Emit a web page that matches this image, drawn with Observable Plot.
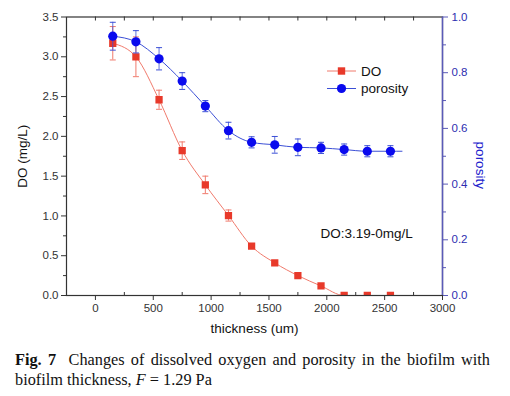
<!DOCTYPE html>
<html><head><meta charset="utf-8">
<script src="https://cdn.jsdelivr.net/npm/d3@7"></script>
<script src="https://cdn.jsdelivr.net/npm/@observablehq/plot@0.6"></script>
<style>
body{margin:0;background:#fff;}
#wrap{position:relative;width:510px;height:396px;overflow:hidden;background:#fff;}
#chart{position:absolute;left:0;top:0;}
#caption{position:absolute;left:15px;top:350px;width:475px;font-family:"Liberation Serif","Times New Roman",serif;font-size:16.3px;line-height:20px;color:#111;}
#caption .l1{text-align:justify;text-align-last:justify;white-space:nowrap;}
</style></head><body>
<div id="wrap"><div id="chart"></div>
<div id="caption"><div class="l1"><b>Fig. 7</b>&nbsp; Changes of dissolved oxygen and porosity in the biofilm with</div><div>biofilm thickness, <i>F</i> = 1.29 Pa</div></div>
</div>
<script>
// ---- data ----
const thickness = [150, 350, 550, 750, 950, 1150, 1350, 1550, 1750, 1950, 2150, 2350, 2550];
const doValues  = [3.17, 3.00, 2.46, 1.82, 1.39, 1.005, 0.62, 0.41, 0.25, 0.12, 0, 0, 0];
const doErr     = [0.21, 0.25, 0.12, 0.11, 0.11, 0.07, 0, 0, 0, 0, 0, 0, 0];
const porosity  = [0.931, 0.911, 0.85, 0.77, 0.68, 0.592, 0.55, 0.541, 0.532, 0.53, 0.524, 0.518, 0.518];
const porErr    = [0.05, 0.04, 0.04, 0.03, 0.02, 0.03, 0.02, 0.03, 0.03, 0.02, 0.02, 0.02, 0.02];
const porosityTailT = 2650, porosityTailP = 0.518;
const xTicks = [0, 500, 1000, 1500, 2000, 2500, 3000];
const xMinor = [250, 750, 1250, 1750, 2250, 2750];
const xAllTicks = [0, 250, 500, 750, 1000, 1250, 1500, 1750, 2000, 2250, 2500, 2750];
const doTicks = [0, 0.5, 1.0, 1.5, 2.0, 2.5, 3.0, 3.5];
const doMinor = [0.25, 0.75, 1.25, 1.75, 2.25, 2.75, 3.25];
const porTicks = [0, 0.2, 0.4, 0.6, 0.8, 1.0];
const porMinor = [0.1, 0.3, 0.5, 0.7, 0.9];
const seriesNames = ["DO", "porosity"];
const annotation = "DO:3.19-0mg/L";
const xLabel = "thickness (um)", yLabel = "DO (mg/L)", y2Label = "porosity";

// ---- build ----
const DOMAX = 3.5, PORMAX = 1.0, K = DOMAX / PORMAX;
const rows = thickness.map((t, i) => ({t, v: doValues[i], e: doErr[i], p: porosity[i], pe: porErr[i]}));
const porLine = rows.map(d => ({t: d.t, p: d.p})).concat([{t: porosityTailT, p: porosityTailP}]);

const RED = "#e8392a", RED_L = "#f07a6c", BLUE = "#0a0aee", BLUE_L = "#3b4fd6", AX = "#333", RAX = "#5a5ab8", RTXT = "#2d2db0";
const cap = {draw(ctx, size) { ctx.moveTo(-3, 0); ctx.lineTo(3, 0); }};

const W = 510, H = 345, mt = 16.5, mb = 50, ml = 66, mr = 68;
const fh = H - mt - mb;

const plot = Plot.plot({
  width: W, height: H, marginTop: mt, marginBottom: mb, marginLeft: ml, marginRight: mr,
  x: {domain: [-250, 3000]},
  y: {domain: [0, DOMAX]},
  style: {fontFamily: "'Liberation Sans', Arial, sans-serif", fontSize: "11.5px", color: AX, background: "transparent"},
  marks: [
    // DO series
    Plot.line(rows, {x: "t", y: "v", stroke: RED_L, strokeWidth: 1, curve: "monotone-x", clip: true}),
    Plot.ruleX(rows.filter(d => d.e > 0), {x: "t", y1: d => d.v - d.e, y2: d => d.v + d.e, stroke: RED_L, strokeWidth: 1}),
    Plot.dot(rows.filter(d => d.e > 0), {x: "t", y: d => d.v - d.e, symbol: cap, stroke: RED_L, strokeWidth: 1}),
    Plot.dot(rows.filter(d => d.e > 0), {x: "t", y: d => d.v + d.e, symbol: cap, stroke: RED_L, strokeWidth: 1}),
    Plot.dot(rows, {x: "t", y: "v", symbol: "square", r: 4.1, fill: RED, stroke: null, clip: true}),
    // porosity series
    Plot.line(porLine, {x: "t", y: d => d.p * K, stroke: BLUE_L, strokeWidth: 1, curve: "monotone-x"}),
    Plot.ruleX(rows, {x: "t", y1: d => (d.p - d.pe) * K, y2: d => (d.p + d.pe) * K, stroke: BLUE_L, strokeWidth: 1, strokeOpacity: 0.8}),
    Plot.dot(rows, {x: "t", y: d => (d.p - d.pe) * K, symbol: cap, stroke: BLUE_L, strokeWidth: 1}),
    Plot.dot(rows, {x: "t", y: d => (d.p + d.pe) * K, symbol: cap, stroke: BLUE_L, strokeWidth: 1}),
    Plot.dot(rows, {x: "t", y: d => d.p * K, r: 4.6, fill: BLUE, stroke: null}),
    // axes
    Plot.axisX({ticks: xTicks, tickSize: 5, tickPadding: 3, label: null, tickFormat: d => String(d), stroke: AX}),
    Plot.ruleX(xMinor, {x: d => d, insetTop: fh - 3, stroke: AX}),
    Plot.ruleX(xAllTicks, {x: d => d, insetBottom: fh - 4, stroke: AX}),
    Plot.axisY({ticks: doTicks, tickSize: 5, tickPadding: 3, label: null, tickFormat: d => d.toFixed(1), stroke: AX}),
    Plot.axisY({ticks: doMinor, tickSize: 3, tickFormat: () => "", label: null, stroke: AX}),
    Plot.axisY({anchor: "right", ticks: porTicks.map(p => p * K), tickSize: 5, tickPadding: 4, label: null, tickFormat: d => (d / K).toFixed(1), stroke: RAX, fill: RTXT}),
    Plot.axisY({anchor: "right", ticks: porMinor.map(p => p * K), tickSize: 3, tickFormat: () => "", label: null, stroke: RAX}),
    Plot.frame({stroke: AX, strokeWidth: 1.2}),
    Plot.ruleX([3000], {stroke: RAX, strokeWidth: 1.5}),
    // labels
    Plot.text([xLabel], {frameAnchor: "bottom", dy: 37, fontSize: 13.5, fill: "#111"}),
    Plot.text([yLabel], {frameAnchor: "left", dx: -44, rotate: -90, textAnchor: "middle", fontSize: 13.5, fill: "#111"}),
    Plot.text([y2Label], {frameAnchor: "right", dx: 38, dy: 9, rotate: 90, textAnchor: "middle", fontSize: 13.5, fill: "#2222cc"}),
    Plot.text([annotation], {frameAnchor: "top-left", dx: 254, dy: 211.5, textAnchor: "start", fontSize: 13.5, fill: "#111"})
  ]
});
document.getElementById("chart").appendChild(plot);

// legend
const svg = d3.select(plot);
const lg = svg.append("g").attr("font-family", "'Liberation Sans', Arial, sans-serif").attr("font-size", 13.5).attr("text-anchor", "start");
const legendItems = [
  {name: seriesNames[0], line: RED_L, fill: RED, shape: "square"},
  {name: seriesNames[1], line: BLUE_L, fill: BLUE, shape: "circle"}
];
legendItems.forEach((it, i) => {
  const y = 71 + i * 17.5, x0 = 327, x1 = 356, xm = 341.5;
  lg.append("line").attr("x1", x0).attr("x2", x1).attr("y1", y).attr("y2", y).attr("stroke", it.line);
  if (it.shape === "square") lg.append("rect").attr("x", xm - 3.7).attr("y", y - 3.7).attr("width", 7.4).attr("height", 7.4).attr("fill", it.fill);
  else lg.append("circle").attr("cx", xm).attr("cy", y).attr("r", 4.6).attr("fill", it.fill);
  lg.append("text").attr("x", 361).attr("y", y).attr("dy", "0.35em").attr("text-anchor", "start").attr("fill", "#111").text(it.name);
});
</script>
</body></html>
